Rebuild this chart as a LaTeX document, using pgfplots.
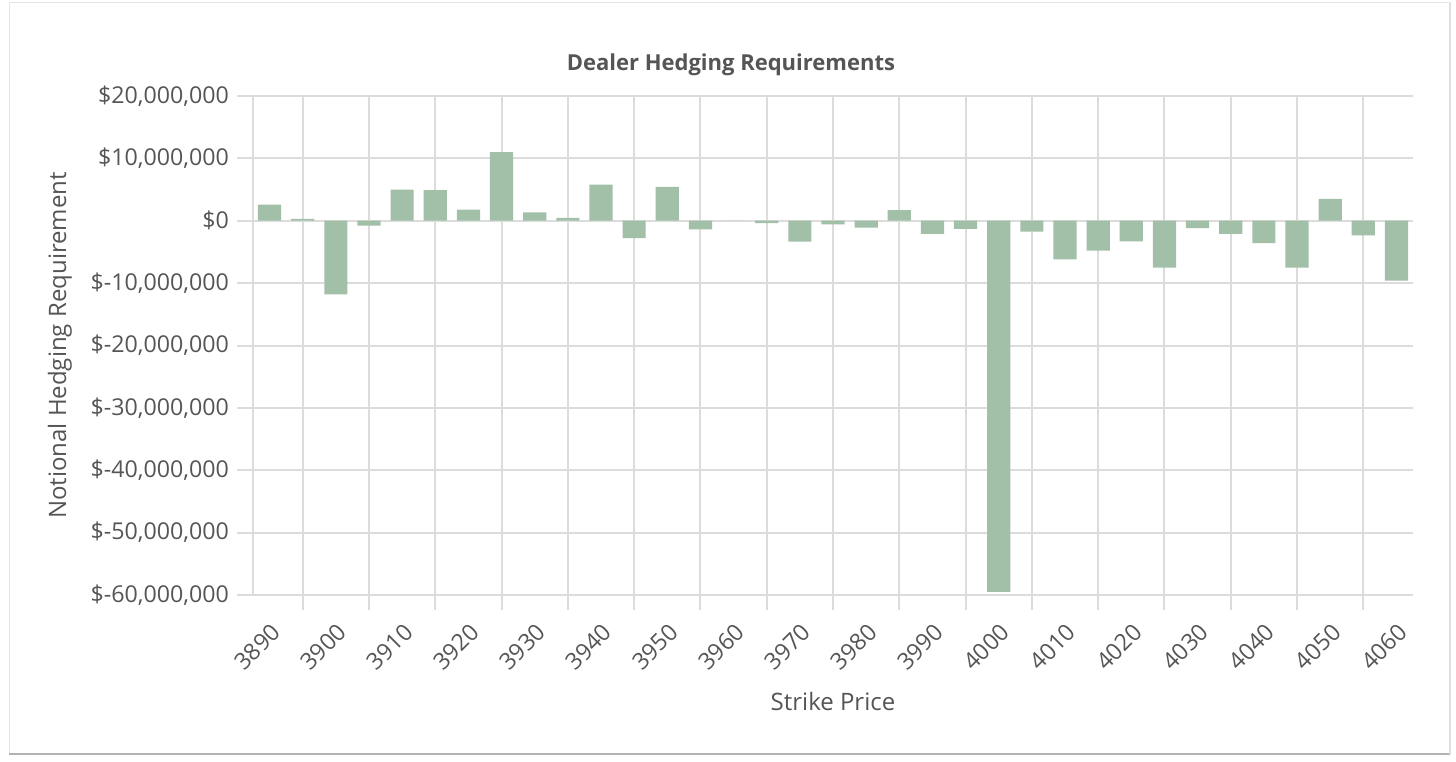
\documentclass[border=0pt]{standalone}
\usepackage{fontspec}
\setmainfont{Open Sans}
\usepackage{pgfplots}
\pgfplotsset{compat=1.18}
\definecolor{barcol}{HTML}{A2BFA8}
\definecolor{gridcol}{HTML}{DCDCDC}
\definecolor{txt}{HTML}{555555}
\begin{document}
\begin{tikzpicture}
\useasboundingbox (0,0) rectangle (728pt,380.5pt);
\fill[white] (0,0) rectangle (728pt,380.5pt);
\draw[color=gray!20, line width=0.5pt] (4.5pt,3.5pt) rectangle (725pt,379pt);
\draw[gray!60, line width=1pt] (4.5pt,3.3pt) -- (725pt,3.3pt);
\draw[gray!25, line width=0.8pt] (725pt,3.3pt) -- (725pt,379pt);
\begin{axis}[
  at={(126.5pt,83pt)}, anchor=south west,
  scale only axis, width=580pt, height=249.5pt,
  xmin=3887.5, xmax=4062.5, ymin=-60000000, ymax=20000000,
  ybar, bar width=3.5,
  axis x line*=bottom, axis y line*=left,
  axis line style={gridcol, line width=1pt, -},
  tick align=outside,
  major tick length=8pt, minor tick length=7.5pt,
  tick style={gridcol, line width=1pt},
  every major x tick/.append style={draw=none},
  xtick={3890,3900,3910,3920,3930,3940,3950,3960,3970,3980,3990,4000,4010,4020,4030,4040,4050,4060},
  xticklabels={3890,3900,3910,3920,3930,3940,3950,3960,3970,3980,3990,4000,4010,4020,4030,4040,4050,4060},
  minor xtick={3895,3905,3915,3925,3935,3945,3955,3965,3975,3985,3995,4005,4015,4025,4035,4045,4055},
  xminorgrids=true, xmajorgrids=false, ymajorgrids=true,
  major grid style={gridcol, line width=1pt},
  minor grid style={gridcol, line width=1pt},
  ytick={-60000000,-50000000,-40000000,-30000000,-20000000,-10000000,0,10000000,20000000},
  yticklabels={{\$-60,000,000},{\$-50,000,000},{\$-40,000,000},{\$-30,000,000},{\$-20,000,000},{\$-10,000,000},{\$0},{\$10,000,000},{\$20,000,000}},
  scaled y ticks=false, scaled x ticks=false,
  ticklabel style={font=\fontsize{11.6pt}{13pt}\selectfont, text=txt},
  yticklabel style={xshift=-0.5pt},
  xticklabel style={xshift=5.7pt, rotate=45, anchor=east},
  xticklabel shift=6pt,
  xlabel={Strike Price},
  ylabel={Notional Hedging Requirement},
  every axis x label/.style={at={(axis description cs:0.5,-0.2144)}, anchor=center, font=\fontsize{12pt}{14pt}\selectfont, text=txt},
  every axis y label/.style={at={(axis description cs:-0.1664,0.5)}, rotate=90, anchor=center, font=\fontsize{12pt}{14pt}\selectfont, text=txt},
  title={Dealer Hedging Requirements},
  title style={font=\fontsize{11pt}{13pt}\selectfont\bfseries, text=txt, at={(axis description cs:0.412,1.038)}, anchor=center},
]
\addplot[fill=barcol, draw=none] coordinates {
(3890,2600000) (3895,300000) (3900,-11800000) (3905,-800000) (3910,5000000)
(3915,4900000) (3920,1800000) (3925,11000000) (3930,1350000) (3935,450000)
(3940,5800000) (3945,-2800000) (3950,5450000) (3955,-1400000) (3960,0)
(3965,-400000) (3970,-3350000) (3975,-600000) (3980,-1100000) (3985,1700000)
(3990,-2100000) (3995,-1300000) (4000,-59500000) (4005,-1750000) (4010,-6200000)
(4015,-4800000) (4020,-3300000) (4025,-7500000) (4030,-1200000) (4035,-2100000)
(4040,-3600000) (4045,-7500000) (4050,3500000) (4055,-2350000) (4060,-9600000)
};
\end{axis}
\end{tikzpicture}
\end{document}
